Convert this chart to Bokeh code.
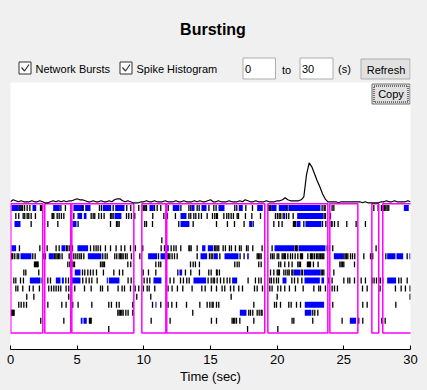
import numpy as np
from bokeh.plotting import figure
from bokeh.models import Range1d, ColumnDataSource, FixedTicker
from bokeh.layouts import column
from bokeh.core.properties import value
from bokeh.embed import file_html
from bokeh.resources import INLINE

# ---------------- data ----------------
x_start, x_end = 0, 30
tick_values = [0, 5, 10, 15, 20, 25, 30]
axis_label = "Time (sec)"

# network bursts (start, end) in seconds
nb_start = [0.02, 2.57, 4.60, 9.85, 11.72, 19.30, 23.95, 27.10, 27.92]
nb_end = [2.42, 4.52, 9.25, 11.65, 19.07, 23.80, 26.05, 27.62, 30.10]

# spike histogram (bin width 0.2 s)
hist_bin = 0.2
hist_values = [
    1, 3, 2, 1, 2, 1, 1, 1, 2, 1,
    1, 2, 1, 0, 0, 1, 2, 1, 2, 1,
    2, 1, 2, 2, 3, 4, 3, 3, 2, 1,
    1, 2, 1, 1, 2, 1, 1, 2, 1, 3,
    4, 4, 2, 1, 2, 1, 0, 0, 0, 1,
    1, 2, 1, 1, 2, 1, 1, 1, 2, 1,
    1, 1, 2, 1, 1, 2, 1, 1, 1, 2,
    1, 2, 1, 1, 2, 3, 1, 1, 2, 1,
    1, 1, 2, 1, 1, 1, 2, 1, 3, 2,
    1, 1, 2, 1, 1, 1, 2, 1, 1, 1,
    2, 2, 3, 5, 3, 2, 2, 2, 2, 3,
    6, 28, 40, 36, 29, 22, 16, 9, 4, 1,
    1, 1, 1, 0, 1, 1, 1, 1, 1, 1,
    1, 1, 0, 1, 0, 0, 0, 0, 0, 1,
    1, 2, 1, 1, 2, 1, 1, 1, 1, 2,
    1,
]

# per-electrode spikes (s)
spikes_e01 = [0.65, 0.72, 0.8, 0.9, 1.05, 1.25, 1.45, 2.25, 2.3, 2.35, 3.78, 4.12, 5.4, 5.45, 6.67, 6.82, 7.7, 8.72,
              9.02, 9.62, 9.95, 10.02, 10.1, 10.2, 10.8, 11.0, 11.27, 11.83, 12.78, 13.38, 13.52, 14.0, 14.15, 14.88,
              15.25, 15.42, 16.82, 16.97, 17.65, 18.15, 19.38, 19.45, 19.5, 20.8, 23.37, 23.52, 23.6, 24.12, 24.25,
              27.25, 27.57, 27.82, 27.95, 28.05, 28.15, 28.25, 28.37]
spikes_e02 = [0.4, 0.62, 0.95, 1.07, 1.25, 1.37, 1.55, 1.87, 3.12, 3.18, 3.25, 3.5, 3.65, 3.82, 4.0, 4.75, 6.05, 6.2,
              6.32, 6.62, 6.82, 7.02, 7.5, 7.6, 7.7, 8.7, 8.87, 9.07, 9.32, 10.67, 11.5, 11.77, 12.37, 13.38, 13.52,
              13.75, 13.9, 14.12, 14.32, 14.75, 15.15, 15.32, 15.45, 15.52, 16.0, 16.22, 16.37, 16.55, 16.72, 17.0,
              17.1, 17.62, 18.1, 18.75, 19.87, 20.02, 20.15, 20.27, 20.45, 20.7, 20.87, 21.2, 23.52, 23.62, 24.0]
spikes_e03 = [1.55, 2.8, 3.55, 5.07, 7.5, 7.95, 8.05, 8.15, 10.07, 10.2, 10.65, 12.62, 13.7, 15.45, 16.27, 16.8,
              17.52, 18.2, 19.75, 20.12, 20.37, 21.22, 21.3, 21.37, 22.0, 23.4, 23.65, 24.05, 24.12, 24.3, 24.57,
              25.22, 25.92, 26.62]
spikes_e04 = []
spikes_e05 = [11.35]
spikes_e06 = [0.67, 2.2, 2.75, 3.42, 3.65, 4.2, 4.3, 4.45, 4.65, 6.0, 6.25, 6.42, 6.57, 6.75, 7.12, 7.5, 7.92, 8.3,
              8.57, 9.0, 9.37, 9.92, 11.3, 11.55, 12.05, 12.25, 12.42, 12.77, 13.38, 13.45, 13.55, 14.0, 15.3, 15.4,
              15.5, 15.62, 15.95, 16.12, 16.42, 16.57, 16.87, 17.17, 17.3, 17.7, 17.82, 18.17, 18.87, 19.62, 21.37,
              21.45, 21.5, 23.75, 23.92, 24.17, 27.42]
spikes_e07 = [0.07, 0.12, 0.17, 0.32, 0.5, 0.62, 1.67, 1.85, 2.5, 2.62, 3.3, 3.4, 3.5, 3.6, 3.7, 3.87, 4.4, 4.57,
              4.75, 4.9, 5.05, 5.2, 5.32, 5.5, 6.92, 7.1, 7.25, 7.82, 7.97, 8.15, 8.25, 8.35, 8.45, 8.62, 8.75, 9.07,
              9.7, 11.1, 11.75, 11.85, 11.95, 12.12, 12.3, 12.5, 14.0, 14.92, 15.05, 15.17, 15.7, 17.22, 17.52, 18.5,
              18.6, 18.7, 18.8, 19.52, 19.65, 19.77, 20.0, 20.12, 20.37, 20.45, 20.55, 20.62, 20.8, 21.0, 21.15,
              21.35, 21.55, 21.75, 21.82, 21.9, 22.3, 22.5, 22.58, 22.67, 22.8, 22.95, 23.05, 23.15, 23.25, 23.35,
              23.42, 23.5, 25.0, 25.1, 25.2, 25.3, 25.5, 25.65, 25.82, 26.5, 27.0, 27.1, 27.17, 28.15, 29.75]
spikes_e08 = [1.8, 1.87, 1.95, 2.02, 2.07, 4.3, 4.45, 4.6, 4.7, 4.8, 6.75, 6.87, 6.95, 7.05, 8.8, 9.02, 10.9, 11.12,
              11.27, 13.5, 13.7, 13.87, 14.17, 16.82, 17.0, 17.15, 18.62, 18.8, 20.12, 20.27, 20.57, 20.87, 21.12,
              21.55, 21.65, 21.75, 22.27, 22.35, 22.42, 22.5, 22.72, 23.07, 24.7, 24.8, 24.9, 25.0, 25.8]
spikes_e09 = [1.0, 1.15, 2.12, 4.55, 5.4, 5.57, 5.8, 6.0, 6.2, 6.45, 6.97, 7.75, 8.17, 8.42, 9.95, 10.35, 10.9, 12.55,
              13.12, 13.52, 14.17, 14.87, 15.05, 15.45, 15.5, 15.67, 19.5, 19.75, 20.0, 20.08, 20.17, 20.5, 20.65,
              20.8, 20.9, 21.1, 21.18, 21.8, 21.9, 23.3, 23.4, 23.5, 24.25]
spikes_e10 = [0.25, 0.4, 0.75, 0.97, 2.37, 2.8, 3.0, 4.15, 4.35, 4.52, 5.42, 5.67, 5.9, 6.1, 6.5, 8.82, 9.05, 10.02,
              10.25, 10.45, 11.67, 11.97, 12.25, 12.75, 12.97, 13.22, 13.4, 14.82, 15.05, 15.2, 15.3, 15.5, 15.75,
              16.0, 16.25, 16.45, 17.82, 18.37, 18.62, 18.8, 19.45, 19.57, 19.75, 19.95, 20.1, 21.1, 21.3, 21.55,
              21.85, 23.87, 24.12, 25.0, 25.3, 25.45, 25.8, 26.3, 26.62, 27.12, 27.27, 27.45, 27.62, 27.75, 27.92,
              29.12, 29.3, 29.75]
spikes_e11 = [0.4, 0.55, 0.92, 1.42, 1.7, 2.17, 2.87, 3.07, 3.25, 3.42, 3.6, 3.77, 4.17, 4.37, 4.82, 5.55, 6.05,
              6.75, 6.9, 7.3, 8.07, 8.37, 8.55, 9.0, 9.35, 9.62, 9.97, 10.25, 10.4, 10.82, 11.82, 12.12, 12.52,
              12.92, 13.62, 14.35, 14.6, 15.07, 15.45, 15.87, 16.07, 16.5, 16.75, 17.12, 17.4, 18.3, 18.5, 18.9,
              19.45, 19.62, 20.05, 20.27, 20.57, 20.92, 21.37, 21.95, 22.75, 23.12, 23.25, 23.62, 24.12, 24.3,
              24.52, 26.4, 26.75, 27.72, 28.87, 29.3, 29.62, 29.97]
spikes_e12 = [1.22, 1.75, 4.37, 9.47, 10.52, 16.55, 20.0, 29.97]
spikes_e13 = [0.62, 0.8, 1.0, 1.2, 2.8, 3.85, 4.17, 4.67, 5.07, 6.1, 7.37, 7.57, 7.95, 8.15, 9.17, 10.65, 11.27,
              11.82, 12.1, 12.45, 13.2, 14.2, 14.75, 14.95, 15.12, 15.2, 15.45, 15.62, 18.25, 19.8, 19.95, 20.25,
              20.87, 21.05, 21.45, 21.75, 24.17, 26.42, 26.75, 28.9]
spikes_e14 = [0.07, 0.12, 0.17, 0.22, 0.27, 8.05, 8.15, 8.25, 8.35, 8.45, 8.65, 8.82, 9.17, 13.67, 17.87, 18.0,
              18.17, 18.5, 18.65, 18.8, 18.87, 22.67, 22.82, 23.05]
spikes_e15 = [2.27, 4.0, 5.92, 6.0, 6.05, 10.55, 11.97, 15.07, 15.45, 16.62, 16.72, 16.82, 16.95, 17.2, 18.25,
              21.12, 21.25, 22.67, 24.87, 26.12, 26.42, 27.85, 28.1]
spikes_e16 = [7.37, 17.78, 20.05]

# per-electrode single-channel bursts [start, end] (s)
bursts_e01 = [[0.08, 0.62], [1.65, 1.93], [3.2, 3.7], [4.72, 5.37], [5.6, 6.0], [6.92, 7.55], [7.85, 8.55],
              [10.42, 10.75], [12.17, 12.67], [13.57, 13.8], [14.32, 14.7], [15.6, 16.05], [17.12, 17.42],
              [18.5, 18.92], [19.55, 19.95], [20.12, 20.75], [20.87, 23.25], [29.5, 29.87]]
bursts_e02 = [[5.02, 5.37], [5.5, 5.7], [7.8, 8.32], [12.75, 13.2], [20.5, 20.6], [21.5, 23.45]]
bursts_e03 = [[0.3, 0.75], [4.65, 4.95], [12.75, 13.42], [17.9, 18.12], [21.45, 21.75], [22.12, 23.32]]
bursts_e04 = []
bursts_e05 = []
bursts_e06 = [[0.07, 0.42], [3.82, 4.12], [5.02, 5.82], [11.67, 11.87], [14.37, 14.62], [14.8, 15.2],
              [19.8, 21.3], [21.6, 23.62]]
bursts_e07 = [[0.75, 1.57], [2.87, 3.25], [5.8, 6.82], [10.32, 11.0], [11.25, 11.65], [14.25, 14.75],
              [15.25, 15.55], [16.05, 17.1], [17.75, 17.87], [24.25, 24.95], [28.25, 28.87], [28.95, 29.45],
              [29.92, 30.0]]
bursts_e08 = []
bursts_e09 = [[4.82, 5.25], [12.67, 12.87], [21.25, 21.72], [22.0, 23.25]]
bursts_e10 = [[1.45, 2.25], [3.4, 3.75], [3.85, 4.0], [4.6, 5.25], [7.22, 7.3], [7.37, 8.17], [10.72, 11.32],
              [13.72, 14.67], [16.62, 17.0], [20.4, 20.7], [22.05, 23.2], [23.32, 23.52], [28.25, 28.92]]
bursts_e11 = []
bursts_e12 = []
bursts_e13 = [[10.87, 10.95], [22.07, 23.52]]
bursts_e14 = [[17.2, 17.7], [22.07, 22.57]]
bursts_e15 = [[5.27, 5.4], [5.47, 5.72], [25.45, 25.92]]
bursts_e16 = []

spike_rows = [spikes_e01, spikes_e02, spikes_e03, spikes_e04, spikes_e05, spikes_e06, spikes_e07, spikes_e08,
              spikes_e09, spikes_e10, spikes_e11, spikes_e12, spikes_e13, spikes_e14, spikes_e15, spikes_e16]
burst_rows = [bursts_e01, bursts_e02, bursts_e03, bursts_e04, bursts_e05, bursts_e06, bursts_e07, bursts_e08,
              bursts_e09, bursts_e10, bursts_e11, bursts_e12, bursts_e13, bursts_e14, bursts_e15, bursts_e16]

# ---------------- styling ----------------
FONT = value("Liberation Sans")
BG = "#f0f0f0"
HALF = 0.37
UI_SIZE = "11px"

# ---------------- header (title + controls) ----------------
# the column aligns this frame with the plot frame below (x 10..410 on the page)
hdr = figure(width=427, height=82, x_range=Range1d(10, 410), y_range=Range1d(82, 0),
             output_backend="svg", toolbar_location=None, x_axis_type=None, y_axis_type=None,
             min_border=0, min_border_left=10, min_border_right=17, min_border_top=0, min_border_bottom=0)
hdr.background_fill_color = BG
hdr.border_fill_color = BG
hdr.outline_line_color = None
hdr.grid.visible = False

hdr.text(x=[212.5], y=[28.5], text=["Bursting"], text_font=FONT, text_font_size="16px",
         text_font_style="bold", text_align="center", text_baseline="middle", text_color="#000000")

# checkboxes
for bx, lbl in [(18.5, "Network Bursts"), (119.5, "Spike Histogram")]:
    hdr.quad(left=[bx], right=[bx + 12], top=[61.5], bottom=[73.5], fill_color="#ffffff",
             line_color="#333333", line_width=1)
    hdr.line(x=[bx + 2.5, bx + 5.5, bx + 10], y=[67, 70.5, 64], line_color="#333333", line_width=1.2)
    hdr.text(x=[bx + 16.5], y=[68], text=[lbl], text_font=FONT, text_font_size=UI_SIZE,
             text_align="left", text_baseline="middle", text_color="#000000")

# time inputs
for l, r, s in [(242.5, 275, "0"), (299.5, 332.5, "30")]:
    hdr.quad(left=[l], right=[r], top=[57.5], bottom=[78.5], fill_color="#ffffff",
             line_color="#adadad", line_width=1)
    hdr.text(x=[l + 2], y=[68], text=[s], text_font=FONT, text_font_size=UI_SIZE,
             text_align="left", text_baseline="middle", text_color="#000000")
hdr.text(x=[286], y=[69], text=["to"], text_font=FONT, text_font_size=UI_SIZE,
         text_align="center", text_baseline="middle", text_color="#000000")
hdr.text(x=[344], y=[68.5], text=["(s)"], text_font=FONT, text_font_size=UI_SIZE,
         text_align="center", text_baseline="middle", text_color="#000000")
hdr.quad(left=[360.5], right=[409.5], top=[58.5], bottom=[78.5], fill_color="#e1e1e1",
         line_color="#adadad", line_width=1)
hdr.text(x=[385.5], y=[69], text=["Refresh"], text_font=FONT, text_font_size=UI_SIZE,
         text_align="center", text_baseline="middle", text_color="#000000")

# ---------------- main raster plot ----------------
p = figure(width=427, height=308, x_range=Range1d(x_start, x_end), y_range=Range1d(18.55, -14.54),
           output_backend="svg", toolbar_location=None, y_axis_location=None,
           min_border_left=10, min_border_right=17, min_border_top=0, min_border_bottom=41)
p.background_fill_color = "#ffffff"
p.border_fill_color = BG
p.outline_line_color = None
p.grid.visible = False
p.extra_y_ranges = {"hist": Range1d(-146.7, 120.3), "py": Range1d(349, 82)}
p.extra_x_ranges = {"px": Range1d(10, 410)}

# spikes
sx, sy0, sy1 = [], [], []
bl, br, bt, bb = [], [], [], []
for i, (sp, bu) in enumerate(zip(spike_rows, burst_rows)):
    row = i + 1
    for t in sp:
        sx.append(t); sy0.append(row - HALF); sy1.append(row + HALF)
    for a, b in bu:
        bl.append(a); br.append(b); bt.append(row - HALF); bb.append(row + HALF)

p.segment(x0="x", y0="y0", x1="x", y1="y1", source=ColumnDataSource(dict(x=sx, y0=sy0, y1=sy1)),
          line_color="#000000", line_width=1.3)
p.quad(left="l", right="r", top="t", bottom="b", source=ColumnDataSource(dict(l=bl, r=br, t=bt, b=bb)),
       fill_color="#0000ff", line_color=None)

# network bursts
p.quad(left=nb_start, right=nb_end, top=[0.5] * len(nb_start), bottom=[16.5] * len(nb_start),
       fill_color=None, line_color="#ff00ff", line_width=1.5)

# spike histogram
hist_t = np.arange(len(hist_values)) * hist_bin
p.line(x=hist_t, y=hist_values, y_range_name="hist", line_color="#000000", line_width=1.2)

# Copy button (screen-like ranges)
p.quad(left=[371.5], right=[409.5], top=[83.5], bottom=[103.5], x_range_name="px", y_range_name="py",
       fill_color="#e1e1e1", line_color="#707070", line_width=1)
p.quad(left=[373.5], right=[407.5], top=[85.5], bottom=[101.5], x_range_name="px", y_range_name="py",
       fill_color=None, line_color="#000000", line_width=1, line_dash="1 1")
p.text(x=[390.5], y=[93.5], text=["Copy"], x_range_name="px", y_range_name="py", text_font=FONT,
       text_font_size=UI_SIZE, text_align="center", text_baseline="middle", text_color="#000000")

# axis
ax = p.xaxis[0]
ax.ticker = FixedTicker(ticks=tick_values)
ax.axis_label = axis_label
ax.axis_line_color = "#000000"
ax.major_tick_line_color = "#000000"
ax.major_tick_in = 4
ax.major_tick_out = 0
ax.minor_tick_line_color = None
ax.major_label_standoff = 5
ax.major_label_text_font = "Liberation Sans"
ax.major_label_text_font_size = "13px"
ax.major_label_text_color = "#000000"
ax.axis_label_text_font = "Liberation Sans"
ax.axis_label_text_font_size = "13px"
ax.axis_label_text_font_style = "normal"
ax.axis_label_text_color = "#000000"
ax.axis_label_standoff = 2

layout = column(hdr, p, spacing=0)
try:
    from bokeh.models import GlobalInlineStyleSheet
    layout.stylesheets = [GlobalInlineStyleSheet(css="body{background-color:#f0f0f0;}")]
except Exception:
    pass

open("out.html", "w").write(file_html(layout, INLINE))
